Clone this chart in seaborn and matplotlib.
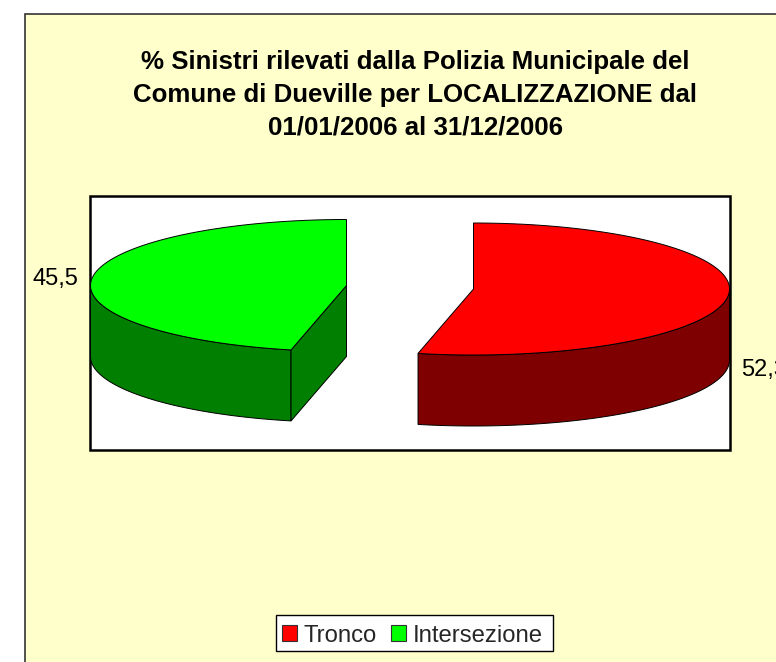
import numpy as np
import matplotlib
matplotlib.use('Agg')
import matplotlib.pyplot as plt
from matplotlib.patches import Rectangle
import seaborn as sns

# Data
categories = ['Tronco', 'Intersezione']
values = [52.3, 45.5]
value_labels = ['52,3', '45,5']
title = ('% Sinistri rilevati dalla Polizia Municipale del\n'
         'Comune di Dueville per LOCALIZZAZIONE dal\n'
         '01/01/2006 al 31/12/2006')

sns.set_theme(style='white')
plt.rcParams['font.family'] = ['Liberation Sans', 'DejaVu Sans']

top_colors = sns.color_palette(['#ff0000', '#00ff00'])
side_colors = sns.color_palette(['#7f0000', '#007f00'])

fig = plt.figure(figsize=(7.76, 6.62), dpi=100, facecolor='white')
ax = fig.add_axes([0, 0, 1, 1])
ax.set_xlim(0, 776)
ax.set_ylim(662, 0)
ax.axis('off')

# chart area and plot area
ax.add_patch(Rectangle((24.5, 14), 800, 700, fc='#ffffcc', ec='#333333', lw=1.2, zorder=0))
ax.add_patch(Rectangle((90, 196), 640, 253.5, fc='white', ec='black', lw=1.8, zorder=1))

# pie geometry
rx, ry, depth = 256, 66, 71
centers = [(473.5, 289), (346.5, 285.5)]
sweeps = np.array(values) / sum(values) * 360
start_angles = [0, sweeps[0]]


def ell(cx, cy, deg):
    t = np.radians(deg)
    return cx + rx * np.sin(t), cy - ry * np.cos(t)


for i, cat in enumerate(categories):
    cx, cy = centers[i]
    a0 = start_angles[i]
    a1 = a0 + sweeps[i]
    deg = np.linspace(a0, a1, 300)
    x, y = ell(cx, cy, deg)

    # outer side, only the part facing the viewer
    lo, hi = max(a0, 90), min(a1, 270)
    d = np.linspace(lo, hi, 200)
    sx, sy = ell(cx, cy, d)
    ax.fill(np.r_[sx, sx[::-1]], np.r_[sy, sy[::-1] + depth], fc=side_colors[i],
            ec='black', lw=0.7, zorder=3)

    # cut face visible on the second slice
    if a0 > 90:
        ex, ey = ell(cx, cy, a0)
        ax.fill([cx, ex, ex, cx], [cy, ey, ey + depth, cy + depth], fc=side_colors[i],
                ec='black', lw=0.7, zorder=3)

    ax.fill(np.r_[cx, x], np.r_[cy, y], fc=top_colors[i], ec='black', lw=0.7, zorder=4)

ax.text(78, 279, value_labels[1], ha='right', va='center', fontsize=17, color='black', zorder=5)
ax.text(741, 370, value_labels[0], ha='left', va='center', fontsize=17, color='black', zorder=5)

ax.text(415, 95, title, ha='center', va='center', fontsize=18.65, fontweight='bold',
        color='black', linespacing=1.45, zorder=5)

# legend box drawn apart so the entries can sit where they do in the original
ax.add_patch(Rectangle((275.7, 615), 277.3, 36, fc='white', ec='black', lw=1.0, zorder=5))
handles = [Rectangle((0, 0), 1, 1, fc=top_colors[i], ec='#333333', lw=0.8) for i in range(2)]
leg = ax.legend(handles, categories, loc='center', bbox_to_anchor=(412.5, 635.5),
                bbox_transform=ax.transData, ncol=2, fontsize=17.2, frameon=False,
                handlelength=0.62, handleheight=0.62, handletextpad=0.28,
                columnspacing=0.58, borderpad=0, borderaxespad=0)
leg.set_zorder(6)

fig.savefig('out.png', dpi=100)
